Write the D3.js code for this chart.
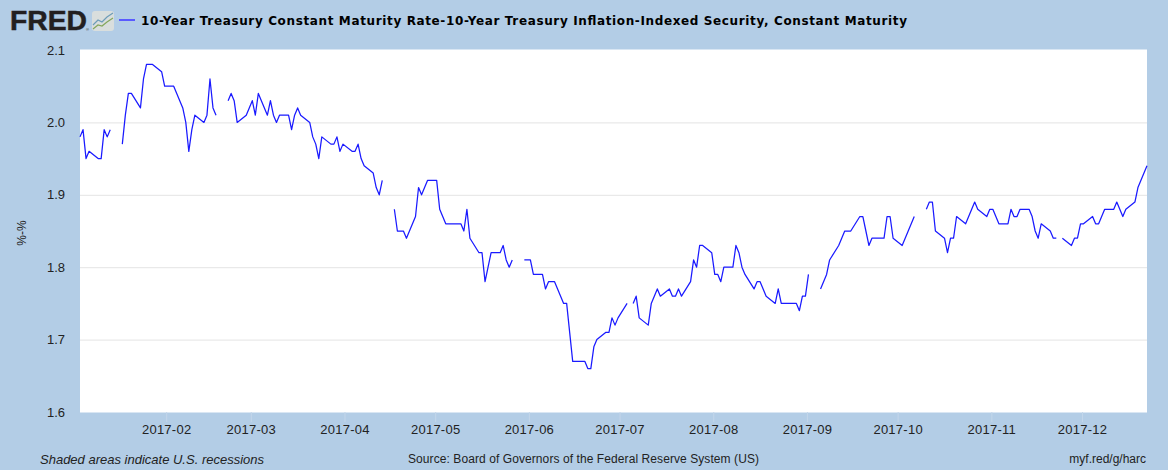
<!DOCTYPE html>
<html>
<head>
<meta charset="utf-8">
<title>FRED 10-Year Breakeven</title>
<script src="https://cdn.jsdelivr.net/npm/d3@7"></script>
<style>
    html, body { margin: 0; padding: 0; background: #b3cde6; }
    svg { display: block; }
    text { font-family: "Liberation Sans", Arial, sans-serif; fill: #222; }
    .domain { display: none; }
</style>
</head>
<body>
<div id="chart"></div>
<script>
// values, null = market holiday (line breaks there)
const jan = ["01-03","01-04","01-05","01-06","01-09","01-10","01-11","01-12","01-13","01-16","01-17","01-18","01-19","01-20","01-23","01-24","01-25","01-26","01-27","01-30","01-31"];
const janVals = [1.98,1.99,1.95,1.96,1.95,1.95,1.99,1.98,1.99,null,1.97,2.01,2.04,2.04,2.02,2.06,2.08,2.08,2.08,2.07,2.05];
const feb = ["02-01","02-02","02-03","02-06","02-07","02-08","02-09","02-10","02-13","02-14","02-15","02-16","02-17","02-20","02-21","02-22","02-23","02-24","02-27","02-28"];
const febVals = [2.05,2.05,2.05,2.02,2.00,1.96,1.99,2.01,2.00,2.01,2.06,2.02,2.01,null,2.03,2.04,2.03,2.00,2.01,2.02];
const mar = ["03-01","03-02","03-03","03-06","03-07","03-08","03-09","03-10","03-13","03-14","03-15","03-16","03-17","03-20","03-21","03-22","03-23","03-24","03-27","03-28","03-29","03-30","03-31"];
const marVals = [2.03,2.01,2.04,2.01,2.03,2.01,2.00,2.01,2.01,1.99,2.01,2.02,2.01,2.00,1.98,1.97,1.95,1.98,1.97,1.97,1.98,1.96,1.97];
const apr = ["04-03","04-04","04-05","04-06","04-07","04-10","04-11","04-12","04-13","04-14","04-17","04-18","04-19","04-20","04-21","04-24","04-25","04-26","04-27","04-28"];
const aprVals = [1.96,1.96,1.97,1.95,1.94,1.93,1.91,1.90,1.92,null,1.88,1.85,1.85,1.85,1.84,1.87,1.91,1.90,1.91,1.92];
const may = ["05-01","05-02","05-03","05-04","05-05","05-08","05-09","05-10","05-11","05-12","05-15","05-16","05-17","05-18","05-19","05-22","05-23","05-24","05-25","05-26","05-29","05-30","05-31"];
const mayVals = [1.92,1.88,1.87,1.86,1.86,1.86,1.86,1.85,1.88,1.84,1.82,1.82,1.78,1.80,1.82,1.82,1.83,1.81,1.80,1.81,null,1.81,1.81];
const jun = ["06-01","06-02","06-05","06-06","06-07","06-08","06-09","06-12","06-13","06-14","06-15","06-16","06-19","06-20","06-21","06-22","06-23","06-26","06-27","06-28","06-29","06-30"];
const junVals = [1.81,1.79,1.79,1.77,1.78,1.78,1.78,1.75,1.75,1.71,1.67,1.67,1.67,1.66,1.66,1.69,1.70,1.71,1.71,1.73,1.72,1.73];
const jul = ["07-03","07-04","07-05","07-06","07-07","07-10","07-11","07-12","07-13","07-14","07-17","07-18","07-19","07-20","07-21","07-24","07-25","07-26","07-27","07-28","07-31"];
const julVals = [1.75,null,1.75,1.76,1.73,1.72,1.75,1.76,1.77,1.76,1.77,1.76,1.76,1.77,1.76,1.78,1.81,1.80,1.83,1.83,1.82];
const aug = ["08-01","08-02","08-03","08-04","08-07","08-08","08-09","08-10","08-11","08-14","08-15","08-16","08-17","08-18","08-21","08-22","08-23","08-24","08-25","08-28","08-29","08-30","08-31"];
const augVals = [1.79,1.79,1.78,1.80,1.80,1.83,1.82,1.80,1.79,1.77,1.78,1.78,1.77,1.76,1.75,1.77,1.75,1.75,1.75,1.75,1.74,1.76,1.76];
const sep = ["09-01","09-04","09-05","09-06","09-07","09-08","09-11","09-12","09-13","09-14","09-15","09-18","09-19","09-20","09-21","09-22","09-25","09-26","09-27","09-28","09-29"];
const sepVals = [1.79,null,1.77,1.78,1.79,1.81,1.83,1.84,1.85,1.85,1.85,1.87,1.87,1.85,1.83,1.84,1.84,1.84,1.87,1.87,1.84];
const oct = ["10-02","10-03","10-04","10-05","10-06","10-09","10-10","10-11","10-12","10-13","10-16","10-17","10-18","10-19","10-20","10-23","10-24","10-25","10-26","10-27","10-30","10-31"];
const octVals = [1.83,1.84,1.85,1.86,1.87,null,1.88,1.89,1.89,1.85,1.84,1.82,1.84,1.84,1.87,1.86,1.87,1.88,1.89,1.88,1.87,1.88];
const nov = ["11-01","11-02","11-03","11-06","11-07","11-08","11-09","11-10","11-13","11-14","11-15","11-16","11-17","11-20","11-21","11-22","11-23","11-24","11-27","11-28","11-29","11-30"];
const novVals = [1.88,1.87,1.86,1.86,1.88,1.87,1.87,1.88,1.88,1.87,1.85,1.84,1.86,1.85,1.84,1.84,null,1.84,1.83,1.84,1.84,1.86];
const dec = ["12-01","12-04","12-05","12-06","12-07","12-08","12-11","12-12","12-13","12-14","12-15","12-18","12-19","12-20","12-21","12-22"];
const decVals = [1.86,1.87,1.86,1.86,1.87,1.88,1.88,1.89,1.88,1.87,1.88,1.89,1.91,1.92,1.93,1.94];

const yTicks = [1.6, 1.7, 1.8, 1.9, 2.0, 2.1];
const xTicks = ["02-01","03-01","04-01","05-01","06-01","07-01","08-01","09-01","10-01","11-01","12-01"];

const titleText = "10-Year Treasury Constant Maturity Rate-10-Year Treasury Inflation-Indexed Security, Constant Maturity";
const width = 1168, height = 470;
const margin = {top: 50, right: 21, bottom: 58, left: 80};

const parseDay = d3.utcParse("%Y-%m-%d");
const toDate = (md) => parseDay("2017-" + md);

const days = [].concat(jan, feb, mar, apr, may, jun, jul, aug, sep, oct, nov, dec);
const vals = [].concat(janVals, febVals, marVals, aprVals, mayVals, junVals, julVals, augVals, sepVals, octVals, novVals, decVals);
const data = days.map((d, i) => ({date: toDate(d), value: vals[i]}));

const svg = d3.select("#chart").append("svg")
    .attr("width", width)
    .attr("height", height);

let xScale = d3.scaleUtc()
    .domain(d3.extent(data, d => d.date))
    .range([margin.left, width - margin.right]);

let yScale = d3.scaleLinear()
    .domain([1.6, 2.1])
    .range([height - margin.bottom, margin.top]);

// plot background
svg.append("rect")
    .attr("x", margin.left)
    .attr("y", margin.top - 0.5)
    .attr("width", width - margin.left - margin.right)
    .attr("height", height - margin.top - margin.bottom + 1)
    .attr("fill", "#fff");

// y axis + gridlines
const yAxis = svg.append("g")
    .attr("transform", `translate(${margin.left}, 0)`)
    .call(d3.axisLeft(yScale)
        .tickValues(yTicks)
        .tickFormat(d3.format(".1f"))
        .tickSize(0)
        .tickPadding(15));
yAxis.selectAll("text")
    .attr("font-size", "13px")
    .style("font-family", '"Liberation Sans", Arial, sans-serif')
    .attr("fill", "#222");
yAxis.selectAll(".tick")
    .filter(d => d > 1.6 && d < 2.1)
    .append("line")
    .attr("x2", width - margin.left - margin.right)
    .attr("stroke", "#e4e4e4");

// x axis, nudged left to sit where the reference ticks sit
const xAxis = svg.append("g")
    .attr("transform", `translate(-1.5,${height - margin.bottom})`)
    .call(d3.axisBottom(xScale)
        .tickValues(xTicks.map(toDate))
        .tickFormat(d3.utcFormat("%Y-%m"))
        .tickSize(10)
        .tickPadding(3));
xAxis.selectAll("line").attr("stroke", "#c3d6ea");
xAxis.selectAll("text")
    .attr("font-size", "13px")
    .style("font-family", '"Liberation Sans", Arial, sans-serif')
    .style("letter-spacing", "0.25px")
    .attr("fill", "#222");

// the series
const line = d3.line()
    .defined(d => d.value !== null)
    .x(d => xScale(d.date))
    .y(d => yScale(d.value));

svg.append("path")
    .datum(data)
    .attr("fill", "none")
    .attr("stroke", "#1a1aff")
    .attr("stroke-width", 1.25)
    .attr("stroke-linejoin", "round")
    .attr("d", line);

// y axis label
svg.append("text")
    .attr("transform", "translate(26,233) rotate(-90)")
    .attr("text-anchor", "middle")
    .attr("font-size", "12px")
    .text("%-%");

// header: logo, legend key, title
svg.append("text")
    .attr("x", 10)
    .attr("y", 30)
    .attr("font-size", "27px")
    .attr("font-weight", "bold")
    .attr("textLength", 77)
    .attr("lengthAdjust", "spacingAndGlyphs")
    .attr("stroke", "#231f20")
    .attr("stroke-width", 0.5)
    .style("fill", "#231f20")
    .text("FRED");

svg.append("text")
    .attr("x", 86)
    .attr("y", 31)
    .attr("font-size", "4px")
    .style("fill", "#231f20")
    .text("®");

const icon = svg.append("g").attr("transform", "translate(92,11)");
icon.append("rect")
    .attr("width", 22)
    .attr("height", 20)
    .attr("rx", 3)
    .attr("fill", "#d9dedd");
icon.append("path")
    .attr("d", "M1,14 L6,9 L10,11 L15,6 L21,2")
    .attr("fill", "none")
    .attr("stroke", "#6d9cb8")
    .attr("stroke-width", 1.2);
icon.append("path")
    .attr("d", "M1,18 L6,14 L10,15 L15,11 L21,7")
    .attr("fill", "none")
    .attr("stroke", "#84a75c")
    .attr("stroke-width", 1.2);

svg.append("line")
    .attr("x1", 119)
    .attr("x2", 135)
    .attr("y1", 20)
    .attr("y2", 20)
    .attr("stroke", "#5a5aff")
    .attr("stroke-width", 2);

svg.append("text")
    .attr("x", 141)
    .attr("y", 25)
    .attr("font-size", "12px")
    .attr("font-weight", "bold")
    .attr("textLength", 766)
    .style("font-family", '"DejaVu Sans", sans-serif')
    .style("fill", "#000")
    .text(titleText);

// footer
svg.append("text")
    .attr("x", 40)
    .attr("y", 464)
    .attr("font-size", "13px")
    .attr("font-style", "italic")
    .text("Shaded areas indicate U.S. recessions");

svg.append("text")
    .attr("x", 408)
    .attr("y", 463)
    .attr("font-size", "12px")
    .attr("textLength", 351)
    .text("Source: Board of Governors of the Federal Reserve System (US)");

svg.append("text")
    .attr("x", 1146)
    .attr("y", 463)
    .attr("font-size", "12px")
    .attr("text-anchor", "end")
    .text("myf.red/g/harc");
</script>
</body>
</html>
